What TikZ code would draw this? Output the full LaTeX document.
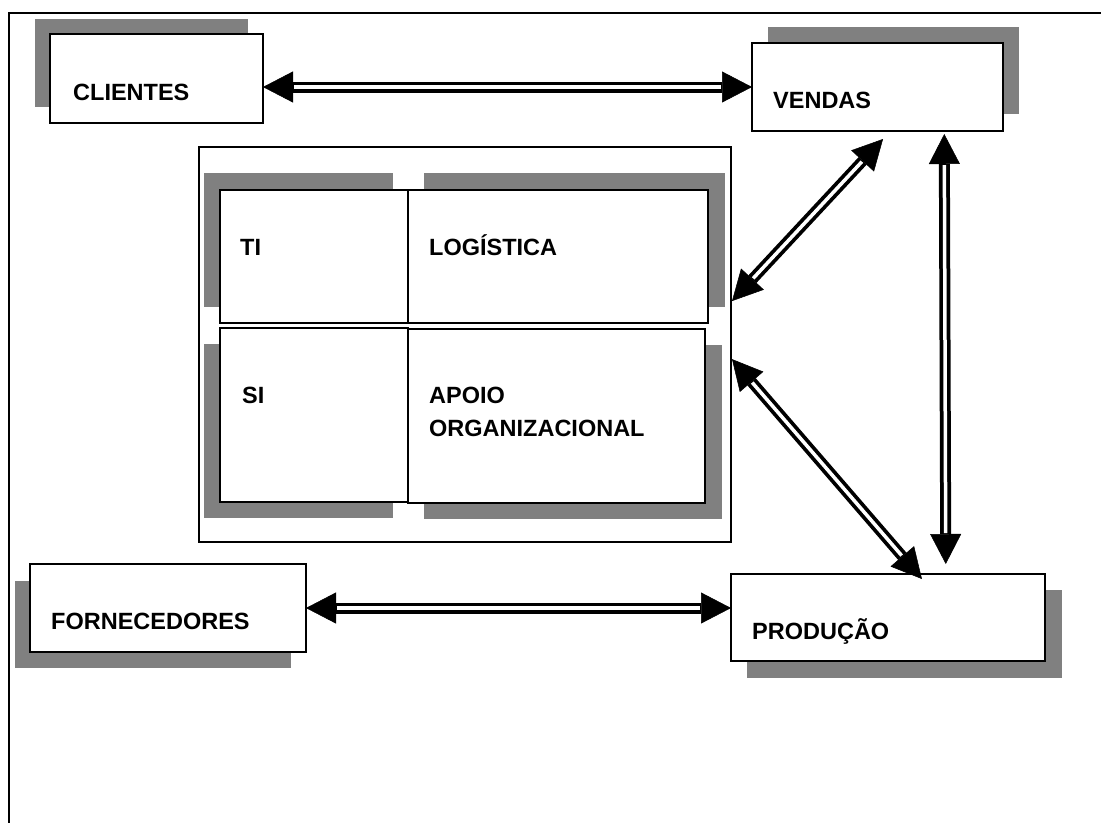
\documentclass[tikz,border=0pt]{standalone}
\usepackage{fontspec}
\setmainfont{Liberation Sans}
\usetikzlibrary{arrows.meta,calc,fit}

\definecolor{shadowgray}{HTML}{808080}

\tikzset{
  box/.style={draw=black, line width=2pt, fill=white, inner sep=0pt, outer sep=0pt},
  cellbox/.style={draw=black, line width=1.6pt, fill=white, inner sep=0pt, outer sep=0pt},
  frame/.style={draw=black, line width=1.5pt, inner sep=0pt, outer sep=0pt},
  shade/.style={fill=shadowgray},
  lbl/.style={anchor=base west, inner sep=0pt, font=\fontsize{23.5}{28}\selectfont\bfseries},
  link/.style={line width=11pt, {Triangle[length=30pt, width=31pt, line width=0.5pt]}-{Triangle[length=30pt, width=31pt, line width=0.5pt]}},
  gap/.style={draw=white, line width=3.5pt, shorten <=31pt, shorten >=31pt}
}

% draws a double-walled two-headed arrow between two points
\newcommand{\duplink}[2]{%
  \draw[link] #1 -- #2;
  \draw[gap] #1 -- #2;
}

\begin{document}
\begin{tikzpicture}[x=1pt, y=-1pt]
\useasboundingbox (0,0) rectangle (1101,823);

% page rule
\draw[line width=2pt] (1101,13) -- (9,13) -- (9,823);

% drop shadows
\fill[shade] (35,19) rectangle (248,107);
\fill[shade] (768,27) rectangle (1019,114);
\fill[shade] (15,581) rectangle (291,668);
\fill[shade] (747,590) rectangle (1062,678);

% central group
\node[frame, fit={(199,147) (731,542)}] (grp) {};
\fill[shade] (204,173) rectangle (393,307);
\fill[shade] (424,173) rectangle (725,307);
\fill[shade] (204,344) rectangle (393,518);
\fill[shade] (424,345) rectangle (722,519);

\node[cellbox, fit={(220,190) (408,323)}] (ti) {};
\node[cellbox, fit={(408,190) (708,323)}] (log) {};
\node[cellbox, fit={(220,328) (408,502)}] (si) {};
\node[cellbox, fit={(408,329) (705,503)}] (apoio) {};

% outer boxes
\node[box, fit={(50,34) (263,123)}] (cli) {};
\node[box, fit={(752,43) (1003,131)}] (ven) {};
\node[box, fit={(30,564) (306,652)}] (forn) {};
\node[box, fit={(731,574) (1045,661)}] (prod) {};

% labels
\node[lbl] (tcli) at (73,100) {CLIENTES};
\node[lbl] (tven) at (773,108) {VENDAS};
\node[lbl] (tti) at (240,255) {TI};
\node[lbl] (tlog) at (429,255) {LOGÍSTICA};
\node[lbl] (tsi) at (242,403) {SI};
\node[lbl] (tap1) at (429,403) {APOIO};
\node[lbl] (tap2) at (429,436) {ORGANIZACIONAL};
\node[lbl] (tforn) at (51,629) {FORNECEDORES};
\node[lbl] (tprod) at (752,639) {PRODUÇÃO};

% connector end points
\coordinate (vA) at ($(ven.south west)!0.522!(ven.south east)+(0,8)$);
\coordinate (gA) at ($(grp.north east)!0.39!(grp.south east)+(1,0)$);
\coordinate (gB) at ($(grp.north east)!0.537!(grp.south east)+(1,0)$);
\coordinate (pA) at ($(prod.north west)!0.608!(prod.north east)+(0,5)$);
\coordinate (vB) at ($(ven.south west)!0.766!(ven.south east)+(0,3)$);
\coordinate (pB) at ($(prod.north west)!0.684!(prod.north east)+(0,-10)$);

% connectors
\duplink{(cli.east |- ven.west)}{(ven.west)}
\duplink{(vA)}{(gA)}
\duplink{(gB)}{(pA)}
\duplink{(vB)}{(pB)}
\duplink{(forn.east)}{(forn.east -| prod.west)}

\end{tikzpicture}
\end{document}
